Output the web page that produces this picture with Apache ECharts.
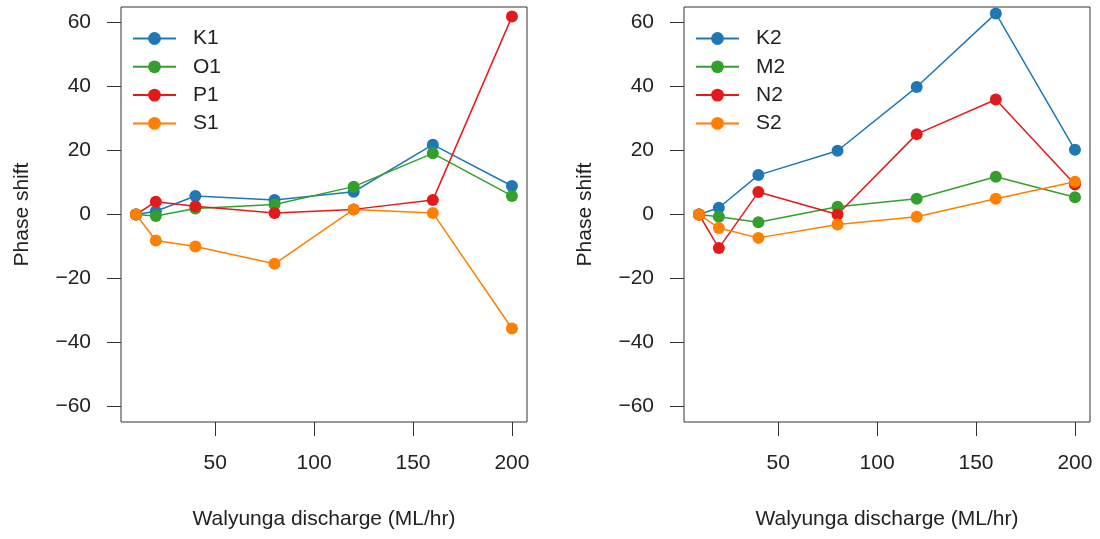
<!DOCTYPE html>
<html>
<head>
<meta charset="utf-8">
<script src="https://cdn.jsdelivr.net/npm/echarts@6/dist/echarts.min.js"></script>
<style>html,body{margin:0;padding:0;background:#fff}#c{width:1100px;height:539px}</style>
</head>
<body>
<div id="c"></div>
<script>
const discharge = [10, 20, 40, 80, 120, 160, 200];
const xTicks = [50, 100, 150, 200];
const yTicks = [-60, -40, -20, 0, 20, 40, 60];

const namesLeft = ['K1', 'O1', 'P1', 'S1'];
const K1 = [0, 1.0, 5.8, 4.5, 7.1, 21.8, 8.9];
const O1 = [0, -0.5, 1.9, 3.1, 8.7, 19.1, 5.8];
const P1 = [0, 4.0, 2.6, 0.5, 1.6, 4.5, 61.8];
const S1 = [0, -8.1, -10.0, -15.4, 1.6, 0.5, -35.6];

const namesRight = ['K2', 'M2', 'N2', 'S2'];
const K2 = [0, 2.1, 12.3, 19.9, 39.8, 62.8, 20.2];
const M2 = [0, -0.7, -2.4, 2.4, 4.9, 11.8, 5.4];
const N2 = [0, -10.5, 7.0, 0, 25.1, 35.9, 9.4];
const S2 = [0, -4.2, -7.3, -3.1, -0.7, 4.9, 10.2];

const colors = ['#1F78B4', '#33A02C', '#E31A1C', '#FF7F00'];
const font = 'Liberation Sans, Arial, sans-serif';
const fs = 21;
const minus = v => String(v).replace('-', '\u2212');

function xAxis(gi) {
  return {
    type: 'value', gridIndex: gi, min: 2.4, max: 207.6,
    name: 'Walyunga discharge (ML/hr)', nameLocation: 'middle', nameGap: 87,
    nameTextStyle: {fontFamily: font, fontSize: fs, color: '#222'},
    splitLine: {show: false}, axisLine: {show: false, onZero: false},
    axisTick: {show: true, length: 14, inside: false, customValues: xTicks, lineStyle: {color: '#333', width: 1}},
    axisLabel: {customValues: xTicks, margin: 31, fontFamily: font, fontSize: fs, color: '#222'}
  };
}
function yAxis(gi) {
  return {
    type: 'value', gridIndex: gi, min: -64.8, max: 64.8,
    name: 'Phase shift', nameLocation: 'middle', nameGap: 88,
    nameTextStyle: {fontFamily: font, fontSize: fs, color: '#222'},
    splitLine: {show: false}, axisLine: {show: false, onZero: false},
    axisTick: {show: true, length: 14, inside: false, customValues: yTicks, lineStyle: {color: '#333', width: 1}},
    axisLabel: {customValues: yTicks, margin: 30, fontFamily: font, fontSize: fs, color: '#222', formatter: minus}
  };
}
function mk(name, vals, ci, gi) {
  return {
    name: name, type: 'line', xAxisIndex: gi, yAxisIndex: gi,
    data: discharge.map((d, i) => [d, vals[i]]),
    symbol: 'circle', symbolSize: 12, showSymbol: true,
    lineStyle: {width: 1.5, color: colors[ci]},
    itemStyle: {color: colors[ci]},
    emphasis: {disabled: true}, animation: false
  };
}
function legend(names, left) {
  return {
    data: names, orient: 'vertical', left: left, top: 23,
    itemWidth: 43, itemHeight: 16, itemGap: 7.3,
    textStyle: {fontFamily: font, fontSize: fs, color: '#222', padding: [0, 0, 0, 12]},
    selectedMode: false
  };
}

const chart = echarts.init(document.getElementById('c'));
chart.setOption({
  animation: false,
  grid: [
    {left: 121, top: 7, width: 406, height: 415, show: true, borderColor: '#333', borderWidth: 1},
    {left: 684, top: 7, width: 406, height: 415, show: true, borderColor: '#333', borderWidth: 1}
  ],
  xAxis: [xAxis(0), xAxis(1)],
  yAxis: [yAxis(0), yAxis(1)],
  legend: [legend(namesLeft, 127), legend(namesRight, 690)],
  series: [
    mk('K1', K1, 0, 0), mk('O1', O1, 1, 0), mk('P1', P1, 2, 0), mk('S1', S1, 3, 0),
    mk('K2', K2, 0, 1), mk('M2', M2, 1, 1), mk('N2', N2, 2, 1), mk('S2', S2, 3, 1)
  ]
});
</script>
</body>
</html>
